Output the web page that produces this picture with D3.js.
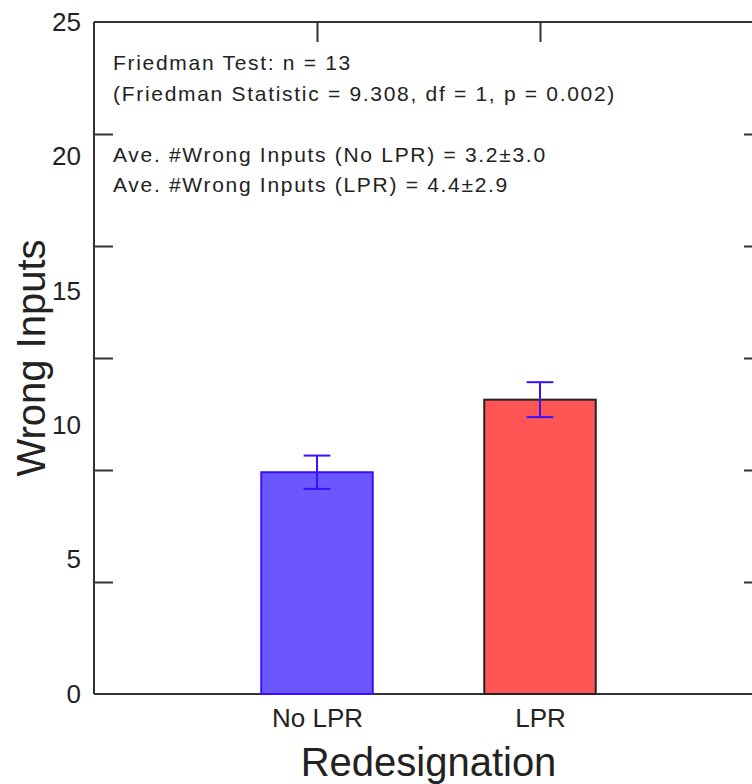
<!DOCTYPE html>
<html>
<head>
<meta charset="utf-8">
<script src="https://cdn.jsdelivr.net/npm/d3@7"></script>
<style>
  body { margin: 0; background: #fff; }
  svg { display: block; }
  text { font-family: "Liberation Sans", Arial, sans-serif; fill: #222; }
</style>
</head>
<body>
<div id="chart"></div>
<script>
// data
const groups = ["No LPR", "LPR"];
const means = [8.25, 10.95];
const errors = [0.62, 0.65];
const fills = ["#6c57ff", "#ff5555"];
const strokes = ["#3a10ff", "#222222"];
const yLabels = [0, 5, 10, 15, 20, 25];
const tickMarks = [1, 2, 3, 4, 5];   // inner tick marks sit on sixths of the axis
const notes = [
  "Friedman Test: n = 13",
  "(Friedman Statistic = 9.308, df = 1, p = 0.002)",
  "",
  "Ave. #Wrong Inputs (No LPR) = 3.2\u00b13.0",
  "Ave. #Wrong Inputs (LPR) = 4.4\u00b12.9"
];

const width = 752, height = 784;
const margin = {top: 22, right: -11, bottom: 90, left: 94};

const svg = d3.select("#chart").append("svg")
  .attr("width", width)
  .attr("height", height);

const x = d3.scaleLinear()
  .domain([0, 3])
  .range([margin.left, width - margin.right]);

const y = d3.scaleLinear()
  .domain([0, 25])
  .range([height - margin.bottom, margin.top]);

const yTick = d3.scaleLinear()
  .domain([0, 6])
  .range(y.range());

const axisColor = "#333";

// frame
svg.append("g")
  .attr("stroke", axisColor)
  .attr("stroke-width", 2)
  .selectAll("line")
  .data([
    [x(0), y(0), x(0), y(25)],
    [x(0), y(0), x(3), y(0)],
    [x(0), y(25), x(3), y(25)],
    [x(3), y(0), x(3), y(25)]
  ])
  .enter().append("line")
    .attr("x1", d => d[0]).attr("y1", d => d[1])
    .attr("x2", d => d[2]).attr("y2", d => d[3]);

// left labels
const yAxis = svg.append("g")
  .attr("transform", `translate(${x(0) - 13}, 0)`)
  .call(d3.axisLeft(y).tickValues(yLabels).tickSize(0).tickPadding(0));
yAxis.select(".domain").remove();
yAxis.selectAll("text")
  .style("font-size", "26px")
  .attr("fill", "#222");

// inward tick marks left and right
svg.append("g")
  .attr("transform", `translate(${x(0)}, 0)`)
  .call(d3.axisRight(yTick).tickValues(tickMarks).tickSize(19).tickFormat(""))
  .call(g => g.select(".domain").remove())
  .selectAll("line").attr("stroke", axisColor).attr("stroke-width", 2);

svg.append("g")
  .attr("transform", `translate(${x(3)}, 0)`)
  .call(d3.axisLeft(yTick).tickValues(tickMarks).tickSize(19).tickFormat(""))
  .call(g => g.select(".domain").remove())
  .selectAll("line").attr("stroke", axisColor).attr("stroke-width", 2);

// top tick marks at category positions
svg.append("g")
  .attr("transform", `translate(0, ${y(25)})`)
  .call(d3.axisBottom(x).tickValues([1, 2]).tickSize(20).tickFormat(""))
  .call(g => g.select(".domain").remove())
  .selectAll("line").attr("stroke", axisColor).attr("stroke-width", 2);

// bottom category labels
const xAxis = svg.append("g")
  .attr("transform", `translate(0, ${y(0)})`)
  .call(d3.axisBottom(x).tickValues([1, 2]).tickSize(0).tickPadding(15)
    .tickFormat(d => groups[d - 1]));
xAxis.select(".domain").remove();
xAxis.selectAll("text").style("font-size", "26px").attr("fill", "#222");

// bars
const bars = groups.map((g, i) => ({name: g, pos: i + 1, mean: means[i], err: errors[i], fill: fills[i], stroke: strokes[i]}));

svg.selectAll("rect.bar")
  .data(bars)
  .enter().append("rect")
    .attr("class", "bar")
    .attr("x", d => x(d.pos - 0.25))
    .attr("width", d => x(d.pos + 0.25) - x(d.pos - 0.25))
    .attr("y", d => y(d.mean))
    .attr("height", d => y(0) - y(d.mean))
    .attr("fill", d => d.fill)
    .attr("stroke", d => d.stroke)
    .attr("stroke-width", 2);

// error bars
const err = svg.selectAll("g.err")
  .data(bars)
  .enter().append("g")
    .attr("class", "err")
    .attr("stroke", "#3a10ff")
    .attr("stroke-width", 2);

err.append("line")
  .attr("x1", d => x(d.pos)).attr("x2", d => x(d.pos))
  .attr("y1", d => y(d.mean + d.err)).attr("y2", d => y(d.mean - d.err));
err.append("line")
  .attr("x1", d => x(d.pos - 0.06)).attr("x2", d => x(d.pos + 0.06))
  .attr("y1", d => y(d.mean + d.err)).attr("y2", d => y(d.mean + d.err));
err.append("line")
  .attr("x1", d => x(d.pos - 0.06)).attr("x2", d => x(d.pos + 0.06))
  .attr("y1", d => y(d.mean - d.err)).attr("y2", d => y(d.mean - d.err));

// annotation text
svg.append("g")
  .selectAll("text")
  .data(notes)
  .enter().append("text")
    .attr("x", x(0) + 19)
    .attr("y", (d, i) => 70 + i * 30.5)
    .style("font-size", "21px")
    .style("letter-spacing", "1.7px")
    .text(d => d);

// axis titles
svg.append("text")
  .attr("transform", `translate(45, ${y(12.5)}) rotate(-90)`)
  .attr("text-anchor", "middle")
  .style("font-size", "40px")
  .text("Wrong Inputs");

svg.append("text")
  .attr("x", x(1.5))
  .attr("y", 776)
  .attr("text-anchor", "middle")
  .style("font-size", "40px")
  .text("Redesignation");
</script>
</body>
</html>
